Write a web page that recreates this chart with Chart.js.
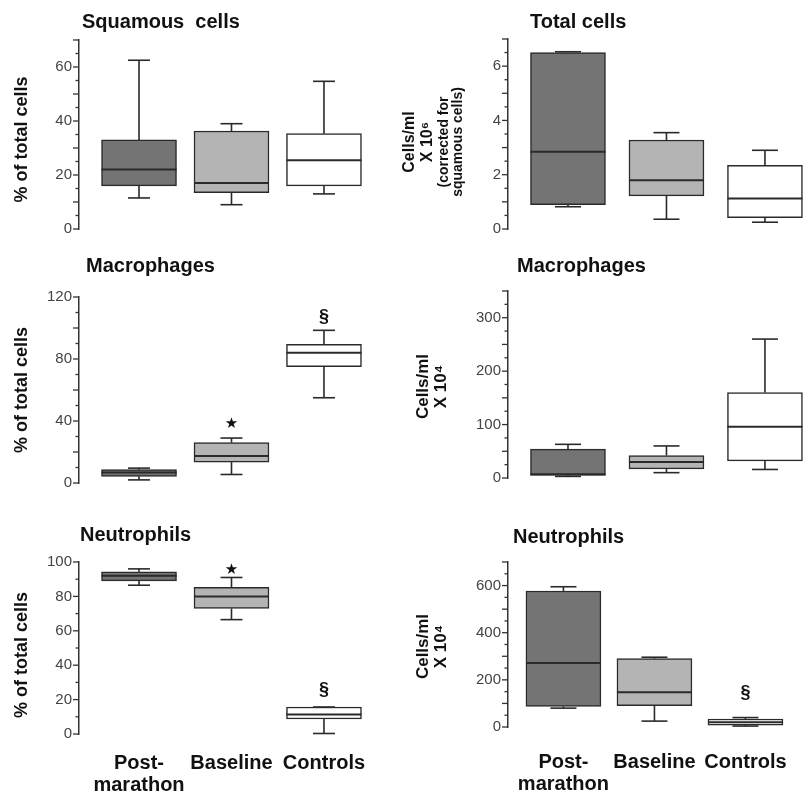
<!DOCTYPE html>
<html><head><meta charset="utf-8">
<script src="https://cdn.jsdelivr.net/npm/chart.js@4.4.0/dist/chart.umd.min.js"></script>
<style>
body{margin:0;background:#fff;width:811px;height:794px;overflow:hidden;}
.p{position:absolute;}
canvas{display:block;}
</style></head><body>
<div class="p" style="left:0;top:0"><canvas id="c1" width="400" height="250"></canvas></div>
<div class="p" style="left:400px;top:0"><canvas id="c2" width="411" height="250"></canvas></div>
<div class="p" style="left:0;top:250px"><canvas id="c3" width="400" height="260"></canvas></div>
<div class="p" style="left:400px;top:250px"><canvas id="c4" width="411" height="260"></canvas></div>
<div class="p" style="left:0;top:510px"><canvas id="c5" width="400" height="284"></canvas></div>
<div class="p" style="left:400px;top:510px"><canvas id="c6" width="411" height="284"></canvas></div>
<script>
// ---------- data ----------
const categories = ['Post-marathon', 'Baseline', 'Controls'];
const xTickLabels = [['Post-', 'marathon'], 'Baseline', 'Controls'];
const boxColors = ['#747474', '#b4b4b4', '#ffffff'];

// Squamous cells (% of total cells)
const squamousMin = [11.5, 9, 13];
const squamousQ1 = [16, 13.5, 16];
const squamousMedian = [22, 17, 25.5];
const squamousQ3 = [33, 36.3, 35.3];
const squamousMax = [62.5, 39, 54.7];

// Total cells (cells/ml x 10^6, corrected for squamous cells)
const totalMin = [0.82, 0.36, 0.25];
const totalQ1 = [0.9, 1.22, 0.42];
const totalMedian = [2.85, 1.8, 1.12];
const totalQ3 = [6.5, 3.28, 2.35];
const totalMax = [6.53, 3.55, 2.9];

// Macrophages (% of total cells)
const macroPctMin = [2, 5.5, 55];
const macroPctQ1 = [4.3, 13.5, 75];
const macroPctMedian = [6.8, 17.5, 84];
const macroPctQ3 = [8.6, 26, 89.5];
const macroPctMax = [9.6, 29, 98.5];
const macroPctMarks = [[1, 38, '★'], [2, 107, '§']];

// Macrophages (cells/ml x 10^4)
const macroAbsMin = [3, 10, 16];
const macroAbsQ1 = [5, 17, 32];
const macroAbsMedian = [7, 30, 96];
const macroAbsQ3 = [54, 42, 160];
const macroAbsMax = [63, 60, 260];

// Neutrophils (% of total cells)
const neutroPctMin = [86.5, 66.5, 0.3];
const neutroPctQ1 = [89, 73, 8.7];
const neutroPctMedian = [92, 80, 11.4];
const neutroPctQ3 = [94.3, 85.3, 15.7];
const neutroPctMax = [96, 91, 15.7];
const neutroPctMarks = [[1, 95, '★'], [2, 25.5, '§']];

// Neutrophils (cells/ml x 10^4)
const neutroAbsMin = [80, 25, 4];
const neutroAbsQ1 = [87, 90, 8];
const neutroAbsMedian = [272, 147, 20];
const neutroAbsQ3 = [577, 290, 34];
const neutroAbsMax = [595, 296, 40];
const neutroAbsMarks = [[2, 144, '§']];

// ---------- drawing ----------
const FONT = '"Liberation Sans", Arial, Helvetica, sans-serif';
Chart.defaults.font.family = FONT;

const boxExtras = {
  id: 'boxExtras',
  afterDatasetsDraw(chart, args, o) {
    const ctx = chart.ctx, xs = chart.scales.x, ys = chart.scales.y;
    const meta = chart.getDatasetMeta(0);
    ctx.save();
    ctx.strokeStyle = '#2a2a2a';
    ctx.lineCap = 'butt';
    const line = (x1, y1, x2, y2) => { ctx.beginPath(); ctx.moveTo(x1, y1); ctx.lineTo(x2, y2); ctx.stroke(); };
    for (let i = 0; i < categories.length; i++) {
      const cx = xs.getPixelForValue(i + 1);
      const el = meta.data[i];
      const half = el.width / 2;
      const pMin = ys.getPixelForValue(o.min[i]);
      const pQ1 = ys.getPixelForValue(o.q1[i]);
      const pMed = ys.getPixelForValue(o.median[i]);
      const pQ3 = ys.getPixelForValue(o.q3[i]);
      const pMax = ys.getPixelForValue(o.max[i]);
      ctx.lineWidth = 1.6;
      line(cx, pQ3, cx, pMax);
      line(cx, pQ1, cx, pMin);
      line(cx - o.cap / 2, pMax, cx + o.cap / 2, pMax);
      line(cx - o.cap / 2, pMin, cx + o.cap / 2, pMin);
      ctx.lineWidth = 2;
      line(cx - half, pMed, cx + half, pMed);
    }
    // y tick marks (major / minor)
    ctx.lineWidth = 1.3;
    ctx.strokeStyle = '#333';
    const left = chart.chartArea.left;
    ys.ticks.forEach(t => {
      const y = ys.getPixelForValue(t.value);
      const r = t.value / o.major;
      const isMajor = Math.abs(r - Math.round(r)) < 1e-6;
      line(left - (isMajor ? 6 : 3.5), y, left, y);
    });
    // significance markers
    ctx.fillStyle = '#111';
    ctx.textAlign = 'center';
    ctx.textBaseline = 'middle';
    (o.marks || []).forEach(m => {
      ctx.font = m[2] === '★' ? '15px "DejaVu Sans", sans-serif' : 'bold 18px ' + FONT;
      ctx.fillText(m[2], xs.getPixelForValue(m[0] + 1), ys.getPixelForValue(m[1]));
    });
    ctx.restore();
  },
  afterDraw(chart, args, o) {
    const ctx = chart.ctx;
    ctx.save();
    ctx.fillStyle = '#111';
    ctx.font = 'bold 20px ' + FONT;
    ctx.textAlign = 'left';
    ctx.textBaseline = 'alphabetic';
    ctx.fillText(o.title.text, o.title.x, o.title.y);
    const ca = chart.chartArea;
    const cy = (ca.top + ca.bottom) / 2 + (o.yTitleShift || 0);
    o.yTitle.forEach(l => {
      ctx.save();
      ctx.translate(l.x, cy);
      ctx.rotate(-Math.PI / 2);
      ctx.font = l.font;
      ctx.textAlign = 'center';
      ctx.textBaseline = 'middle';
      ctx.fillText(l.text, 0, 0);
      ctx.restore();
    });
    ctx.restore();
  }
};

function makePanel(cfg) {
  const s = cfg.stats;
  new Chart(document.getElementById(cfg.id), {
    type: 'bar',
    data: {
      datasets: [{
        data: categories.map((c, i) => ({ x: i + 1, y: [s.q1[i], s.q3[i]] })),
        backgroundColor: boxColors,
        borderColor: '#2a2a2a',
        borderWidth: 1.5,
        borderSkipped: false,
        barThickness: 75
      }]
    },
    plugins: [boxExtras],
    options: {
      responsive: false,
      animation: false,
      devicePixelRatio: 1,
      layout: { padding: { top: cfg.padTop, bottom: cfg.padBottom, right: cfg.padRight, left: 0 } },
      plugins: {
        legend: { display: false },
        tooltip: { enabled: false },
        boxExtras: {
          min: s.min, q1: s.q1, median: s.median, q3: s.q3, max: s.max,
          cap: cfg.cap, major: cfg.y.major, marks: cfg.marks,
          title: cfg.title, yTitle: cfg.yTitle, yTitleShift: cfg.yTitleShift
        }
      },
      scales: {
        x: {
          type: 'linear', min: cfg.xMin, max: cfg.xMax, display: cfg.showX,
          offset: false, bounds: 'ticks', grace: 0,
          grid: { display: false, drawTicks: false, offset: false },
          border: { display: false },
          afterBuildTicks: sc => { sc.ticks = categories.map((c, i) => ({ value: i + 1 })); },
          afterFit: sc => { sc.height = cfg.xHeight || 0; },
          ticks: {
            autoSkip: false, maxRotation: 0, minRotation: 0, padding: cfg.xPad || 0,
            color: '#111', font: { size: 20, weight: 'bold', lineHeight: 1.1 },
            callback: v => xTickLabels[Math.round(v) - 1]
          }
        },
        y: {
          min: cfg.y.min, max: cfg.y.max,
          afterFit: sc => { sc.width = cfg.yWidth; },
          grid: { drawOnChartArea: false, color: 'rgba(0,0,0,0)', tickLength: 4 },
          border: { display: true, color: '#333', width: 1.5 },
          ticks: {
            stepSize: cfg.y.step, autoSkip: false, padding: 3, color: '#444',
            font: { size: 15 },
            callback: v => { const r = v / cfg.y.label; return Math.abs(r - Math.round(r)) < 1e-6 ? v : ''; }
          }
        }
      }
    }
  });
}

const leftYTitle = [{ text: '% of total cells', font: 'bold 18px ' + FONT, x: 22 }];
const cellsYTitle = [
  { text: 'Cells/ml', font: 'bold 17px ' + FONT, x: 23 },
  { text: 'X 10\u2074', font: 'bold 17px ' + FONT, x: 41 }
];

makePanel({
  id: 'c1', stats: { min: squamousMin, q1: squamousQ1, median: squamousMedian, q3: squamousQ3, max: squamousMax },
  y: { min: 0, max: 70, step: 5, major: 10, label: 20 },
  yWidth: 79, padTop: 40, padBottom: 21, padRight: 10, xMin: 0.351, xMax: 3.714, showX: false, cap: 22,
  title: { text: 'Squamous  cells', x: 82, y: 28 }, yTitle: leftYTitle, yTitleShift: 5
});
makePanel({
  id: 'c2', stats: { min: totalMin, q1: totalQ1, median: totalMedian, q3: totalQ3, max: totalMax },
  y: { min: 0, max: 7, step: 0.5, major: 1, label: 2 },
  yWidth: 108, padTop: 39, padBottom: 21, padRight: 3, xMin: 0.391, xMax: 3.437, showX: false, cap: 26,
  title: { text: 'Total cells', x: 130, y: 28 },
  yTitle: [
    { text: 'Cells/ml', font: 'bold 16px ' + FONT, x: 10 },
    { text: 'X 10\u2076', font: 'bold 16px ' + FONT, x: 28 },
    { text: '(corrected for', font: 'bold 14px ' + FONT, x: 44 },
    { text: 'squamous cells)', font: 'bold 14px ' + FONT, x: 58 }
  ], yTitleShift: 8
});
makePanel({
  id: 'c3', stats: { min: macroPctMin, q1: macroPctQ1, median: macroPctMedian, q3: macroPctQ3, max: macroPctMax },
  y: { min: 0, max: 120, step: 10, major: 20, label: 40 },
  yWidth: 79, padTop: 47, padBottom: 27, padRight: 10, xMin: 0.351, xMax: 3.714, showX: false, cap: 22,
  marks: macroPctMarks,
  title: { text: 'Macrophages', x: 86, y: 22 }, yTitle: leftYTitle, yTitleShift: 0
});
makePanel({
  id: 'c4', stats: { min: macroAbsMin, q1: macroAbsQ1, median: macroAbsMedian, q3: macroAbsQ3, max: macroAbsMax },
  y: { min: 0, max: 350, step: 25, major: 50, label: 100 },
  yWidth: 108, padTop: 41, padBottom: 32, padRight: 3, xMin: 0.391, xMax: 3.437, showX: false, cap: 26,
  title: { text: 'Macrophages', x: 117, y: 22 }, yTitle: cellsYTitle, yTitleShift: 2
});
makePanel({
  id: 'c5', stats: { min: neutroPctMin, q1: neutroPctQ1, median: neutroPctMedian, q3: neutroPctQ3, max: neutroPctMax },
  y: { min: 0, max: 100, step: 10, major: 20, label: 20 },
  yWidth: 79, padTop: 52, padBottom: 0, padRight: 10, xMin: 0.351, xMax: 3.714, showX: true, xHeight: 60, xPad: 18, cap: 22,
  marks: neutroPctMarks,
  title: { text: 'Neutrophils', x: 80, y: 31 }, yTitle: leftYTitle, yTitleShift: 7
});
makePanel({
  id: 'c6', stats: { min: neutroAbsMin, q1: neutroAbsQ1, median: neutroAbsMedian, q3: neutroAbsQ3, max: neutroAbsMax },
  y: { min: 0, max: 700, step: 50, major: 100, label: 200 },
  yWidth: 108, padTop: 52, padBottom: 0, padRight: 3, xMin: 0.391, xMax: 3.437, showX: true, xHeight: 67, xPad: 24, cap: 26,
  marks: neutroAbsMarks,
  title: { text: 'Neutrophils', x: 113, y: 33 }, yTitle: cellsYTitle, yTitleShift: 2
});
</script>
</body></html>
